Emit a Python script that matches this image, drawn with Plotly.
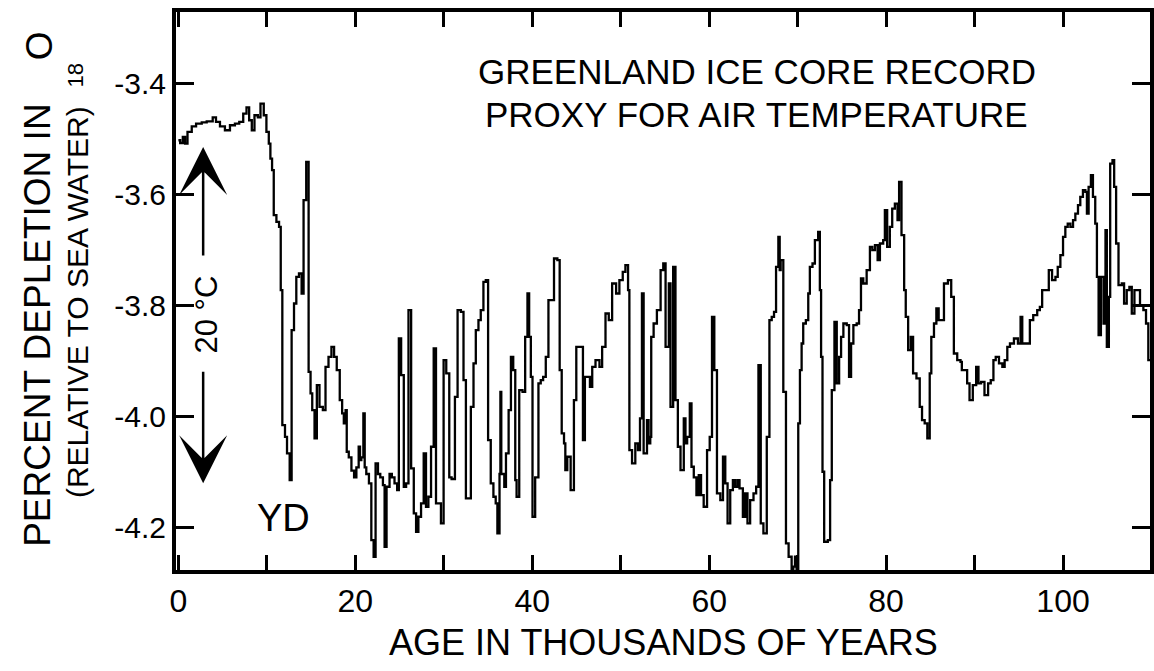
import plotly.graph_objects as go

# ---------------- data ----------------
age_kyr = [
    0.0, 0.20, 0.50, 0.76, 1.03, 1.51, 2.00, 2.64, 3.20, 3.88, 4.25, 4.70, 5.26, 5.83, 6.39, 6.88,
    7.33, 7.70, 8.00, 8.30, 8.60, 8.98, 9.28, 9.65, 9.95, 10.22, 10.40, 10.59, 10.78, 11.08, 11.38,
    11.57, 11.75, 12.05, 12.28, 12.58, 12.80, 13.07, 13.33, 13.63, 13.93, 14.15, 14.45, 14.72, 14.94,
    15.13, 15.39, 15.65, 15.95, 16.33, 16.63, 16.97, 17.30, 17.60, 17.90,
    18.24, 18.51, 18.70, 18.90, 19.03, 19.26, 19.56, 19.86, 20.12, 20.38, 20.53, 20.68, 20.91, 21.06,
    21.24, 21.54, 21.81, 22.07, 22.29, 22.56, 22.82, 23.12, 23.31, 23.53, 23.87, 24.13, 24.43, 24.73,
    24.92, 25.18, 25.48, 25.74, 26.01, 26.31, 26.61, 26.87, 27.13, 27.43, 27.73, 27.99, 28.26, 28.56,
    28.86, 29.12, 29.68, 29.98, 30.28, 30.62, 30.88, 31.26, 31.56, 31.93, 32.23, 32.50, 33.06, 33.36,
    33.62, 33.92, 34.18, 34.48, 34.75, 35.01, 35.31, 35.61, 35.87, 36.06, 36.30, 36.40, 36.50, 36.84,
    37.03, 37.33, 37.59, 37.85, 38.08, 38.23, 38.53, 38.90, 39.20, 39.46, 39.65, 39.84, 40.03, 40.33,
    40.70, 40.96, 41.23, 41.53, 41.83, 42.46, 42.84, 43.10, 43.33, 43.59, 43.74, 43.96, 44.34, 44.71,
    44.98, 45.73, 45.95, 46.52, 46.78, 47.15, 47.60, 47.90, 48.28, 48.65, 49.03, 49.48, 49.85, 50.23,
    50.53, 50.83, 50.98, 51.28, 51.65, 51.95, 52.18, 52.40, 52.59, 52.97, 53.15, 53.34, 53.45, 53.72,
    54.09, 54.51, 54.81, 55.07, 55.44, 55.63, 55.93, 56.19, 56.46, 56.76, 57.13, 57.32, 57.51, 57.81,
    58.00, 58.26, 58.56, 58.82, 59.08, 59.38, 59.76, 60.06, 60.32, 60.58, 60.88, 61.26, 61.56, 61.82,
    62.08, 62.38, 62.68, 62.94, 63.21, 63.43, 63.81, 64.07, 64.33, 64.63, 65.01, 65.31, 65.57, 65.83,
    66.13, 66.51, 66.81, 67.07, 67.33, 67.56, 67.82, 67.97, 68.08, 68.38, 68.68, 68.98, 69.32, 69.51,
    69.70, 69.88, 70.07, 70.26, 70.45, 70.63, 70.93, 71.20, 71.38, 71.68, 71.95, 72.32, 72.51, 72.65,
    72.81, 73.00, 73.41, 73.67, 73.86, 74.16, 74.42, 74.69, 74.91, 75.17, 75.55, 75.81, 76.04, 76.30,
    76.67, 76.94, 77.16, 77.42, 77.80, 78.17, 78.44, 78.74, 79.04, 79.30, 79.67, 79.86, 80.12, 80.42,
    80.69, 80.99, 81.29, 81.47, 81.74, 82.04, 82.22, 82.49, 82.79, 83.05, 83.43, 83.80, 84.06, 84.36,
    84.66, 84.93, 85.11, 85.41, 85.68, 85.94, 86.54, 86.99, 87.36, 87.66, 88.04, 88.41, 88.56, 89.16,
    89.43, 89.80, 90.18, 90.44, 90.74, 91.12, 91.53, 91.83, 92.13, 92.39, 92.76, 93.14, 93.40, 93.70,
    94.00, 94.45, 94.90, 95.20, 95.39, 96.25, 96.63, 97.08, 97.38, 97.64, 98.39, 98.76, 99.14, 99.40,
    99.70, 100.00, 100.26, 100.53, 100.83, 101.13, 101.39, 101.69, 101.95, 102.25, 102.52, 102.70,
    102.89, 103.15, 103.38, 103.64, 103.83, 104.02, 104.28, 104.58, 104.80, 104.95, 105.18, 105.33,
    105.59, 105.78, 106.00, 106.27, 106.64, 106.90, 107.20, 107.50, 107.77, 108.07, 108.70, 109.08,
    109.38, 109.64, 109.90,
]
depletion_18O = [
    -3.503, -3.508, -3.497, -3.509, -3.488, -3.478, -3.473, -3.471, -3.469, -3.462, -3.470, -3.478,
    -3.485, -3.476, -3.473, -3.470, -3.455, -3.444, -3.467, -3.485, -3.458, -3.462, -3.437, -3.458,
    -3.488, -3.509, -3.536, -3.557, -3.638, -3.650, -3.659, -3.773, -4.016, -4.037, -4.067, -4.115,
    -3.845, -3.797, -3.749, -3.743, -3.779, -3.611, -3.542, -3.920, -3.959, -3.989, -4.040, -3.944,
    -3.983, -3.989, -3.911, -3.893, -3.875, -3.893, -3.917,
    -3.971, -3.995, -4.013, -3.989, -4.064, -4.074, -4.098, -4.110, -4.092, -4.055, -4.079, -4.074,
    -3.995, -4.092, -4.104, -4.121, -4.223, -4.253, -4.085, -4.104, -4.110, -4.124, -4.235, -4.127,
    -4.104, -4.110, -4.121, -4.133, -3.860, -3.926, -4.127, -4.121, -3.809, -4.094, -4.175, -4.208,
    -4.181, -4.157, -4.067, -4.163, -4.145, -4.055, -3.878, -4.157, -4.193, -3.899, -3.923, -4.110,
    -4.113, -3.965, -3.809, -3.812, -3.935, -4.148, -3.983, -3.905, -3.845, -3.827, -3.809, -3.758,
    -3.755, -4.043, -4.121, -4.145, -4.157, -4.211, -4.104, -3.956, -4.104, -4.127,
    -4.067, -3.989, -3.893, -3.917, -4.115, -4.145, -3.953, -3.956, -3.857, -3.779, -3.857, -3.929,
    -4.181, -4.110, -3.941, -3.935, -3.929, -3.893, -3.791, -3.716, -3.719, -3.917, -4.031, -4.049,
    -4.097, -4.073, -4.133, -3.971, -3.875, -4.043, -3.929, -3.947, -3.911, -3.899, -3.911, -3.875,
    -3.815, -3.827, -3.761, -3.779, -3.755, -3.740, -3.728, -3.773, -4.061, -4.085, -4.049, -4.061,
    -4.004, -3.779, -4.067, -4.007, -4.049, -4.037, -3.857, -3.833, -3.809,
    -3.737, -3.725, -3.875, -3.761, -3.983, -3.731, -3.971, -4.055, -4.097, -4.004, -4.049, -4.037,
    -3.977, -4.091, -4.110, -4.142, -4.106, -4.142, -4.163, -4.061, -4.037, -3.821, -3.917, -4.139,
    -4.151, -4.073, -4.121, -4.193, -4.133, -4.115, -4.127, -4.115, -4.130, -4.181, -4.139, -4.193,
    -4.151, -4.139, -4.127, -3.908, -4.193, -4.211, -4.037, -3.827, -3.821, -3.812, -3.731, -3.677,
    -3.737, -3.719, -3.956, -4.229, -4.253, -4.278, -4.271, -4.253, -4.278, -4.013, -3.917, -3.869,
    -3.833, -3.827, -3.779, -3.731, -3.725, -3.683, -3.668, -3.773, -3.893,
    -4.100, -4.226, -4.223, -4.115, -3.953, -3.830, -3.941, -3.893, -3.857, -3.833, -3.836, -3.929,
    -3.869, -3.836, -3.833, -3.809, -3.752, -3.761, -3.737, -3.695, -3.701, -3.692, -3.719, -3.689,
    -3.683, -3.629, -3.695, -3.659, -3.626, -3.617, -3.647, -3.578, -3.674, -3.773, -3.821, -3.881,
    -3.857, -3.923, -3.932, -3.983, -4.007, -4.013, -4.040, -3.923, -3.857, -3.833, -3.806, -3.827,
    -3.761, -3.755, -3.785, -3.887, -3.899, -3.902, -3.917, -3.941, -3.971, -3.944, -3.911, -3.941,
    -3.938, -3.962, -3.941, -3.935, -3.899, -3.893, -3.905, -3.911, -3.899, -3.875, -3.869, -3.860,
    -3.869, -3.821, -3.869, -3.827, -3.818, -3.809, -3.803, -3.773, -3.737, -3.755, -3.749, -3.731,
    -3.710, -3.677, -3.659, -3.653, -3.659, -3.647, -3.635, -3.620, -3.605, -3.593, -3.596, -3.635,
    -3.587, -3.566, -3.605, -3.653, -3.749, -3.854, -3.749, -3.833, -3.665, -3.875, -3.785, -3.545,
    -3.539, -3.587, -3.689, -3.764, -3.761, -3.797, -3.773, -3.767, -3.815, -3.773, -3.800, -3.809,
    -3.833, -3.899, -3.899,
]

x_tick_vals = [0, 10, 20, 30, 40, 50, 60, 70, 80, 90, 100]
x_tick_text = ["0", "", "20", "", "40", "", "60", "", "80", "", "100"]
y_tick_vals = [-3.4, -3.6, -3.8, -4.0, -4.2]
y_tick_text = ["-3.4", "-3.6", "-3.8", "-4.0", "-4.2"]

title_lines = ["GREENLAND ICE CORE RECORD", "PROXY FOR AIR TEMPERATURE"]
x_title = "AGE IN THOUSANDS OF YEARS"
y_title_main = "PERCENT DEPLETION IN"
y_title_sub = "(RELATIVE TO SEA WATER)"
event_label = "YD"
scale_label = "20 \u00b0C"

# ---------------- layout geometry ----------------
W, H = 1154, 671
ML, MR, MT, MB = 175.5, 0, 12, 101.3
PW = W - ML - MR
PH = H - MT - MB
FONT = "Liberation Sans, Arial, Helvetica, sans-serif"


def pxx(xp):
    return (xp - ML) / PW


def pxy(yp):
    return (H - MB - yp) / PH


fig = go.Figure()
fig.add_trace(go.Scatter(
    x=age_kyr, y=depletion_18O, mode="lines",
    line=dict(color="black", width=2.3, shape="hv"),
    showlegend=False, hoverinfo="skip",
))

ann = []
# in-plot title
ann.append(dict(text=title_lines[0], xref="paper", yref="paper", x=pxx(759), y=pxy(71),
                showarrow=False, xanchor="center", yanchor="middle",
                font=dict(family=FONT, size=35, color="black")))
ann.append(dict(text=title_lines[1], xref="paper", yref="paper", x=pxx(759), y=pxy(114),
                showarrow=False, xanchor="center", yanchor="middle",
                font=dict(family=FONT, size=35, color="black")))
# YD label
ann.append(dict(text=event_label, xref="paper", yref="paper", x=pxx(283), y=pxy(518),
                showarrow=False, xanchor="center", yanchor="middle",
                font=dict(family=FONT, size=38, color="black")))
# 20 C scale text
ann.append(dict(text=scale_label, xref="paper", yref="paper", x=pxx(206), y=pxy(314),
                showarrow=False, xanchor="center", yanchor="middle", textangle=-90,
                font=dict(family=FONT, size=31, color="black")))
# arrows
arrow_x = 2.8
ann.append(dict(text="", x=arrow_x, y=-3.515, ax=arrow_x, ay=-3.7135, xref="x", yref="y",
                axref="x", ayref="y", showarrow=True, arrowhead=3, arrowsize=3.2,
                arrowwidth=2.5, arrowcolor="black"))
ann.append(dict(text="", x=arrow_x, y=-4.1207, ax=arrow_x, ay=-3.9171, xref="x", yref="y",
                axref="x", ayref="y", showarrow=True, arrowhead=3, arrowsize=3.2,
                arrowwidth=2.5, arrowcolor="black"))
# y-axis titles
ann.append(dict(text=y_title_main, xref="paper", yref="paper", x=pxx(37), y=pxy(325.5),
                showarrow=False, xanchor="center", yanchor="middle", textangle=-90,
                font=dict(family=FONT, size=37, color="black")))
ann.append(dict(text="O", xref="paper", yref="paper", x=pxx(38), y=pxy(46),
                showarrow=False, xanchor="center", yanchor="middle", textangle=-90,
                font=dict(family=FONT, size=37, color="black")))
ann.append(dict(text="18", xref="paper", yref="paper", x=pxx(74.5), y=pxy(75),
                showarrow=False, xanchor="center", yanchor="middle", textangle=-90,
                font=dict(family=FONT, size=22, color="black")))
ann.append(dict(text=y_title_sub, xref="paper", yref="paper", x=pxx(76), y=pxy(302),
                showarrow=False, xanchor="center", yanchor="middle", textangle=-90,
                font=dict(family=FONT, size=30, color="black")))
# x-axis title
ann.append(dict(text=x_title, xref="paper", yref="paper", x=pxx(665), y=pxy(642),
                showarrow=False, xanchor="center", yanchor="middle",
                font=dict(family=FONT, size=36, color="black")))

fig.update_layout(
    width=W, height=H,
    margin=dict(l=ML, r=MR, t=MT, b=MB, pad=0),
    paper_bgcolor="white", plot_bgcolor="white",
    font=dict(family=FONT, color="black"),
    annotations=ann,
    xaxis=dict(
        range=[-0.27, 109.83], tickvals=x_tick_vals, ticktext=x_tick_text,
        ticks="inside", ticklen=15, tickwidth=3, tickcolor="black",
        showline=True, linewidth=4, linecolor="black", mirror="ticks",
        showgrid=False, zeroline=False,
        tickfont=dict(family=FONT, size=32, color="black"),
    ),
    yaxis=dict(
        range=[-4.2769, -3.2721], tickvals=y_tick_vals, ticktext=y_tick_text,
        ticks="inside", ticklen=18, tickwidth=3, tickcolor="black",
        showline=True, linewidth=4, linecolor="black", mirror="ticks",
        showgrid=False, zeroline=False,
        tickfont=dict(family=FONT, size=30, color="black"),
    ),
)

fig.write_html(
    "out.html",
    config={"displayModeBar": False, "responsive": False},
    post_script="document.body.style.margin='0';document.body.style.overflow='hidden';",
)
